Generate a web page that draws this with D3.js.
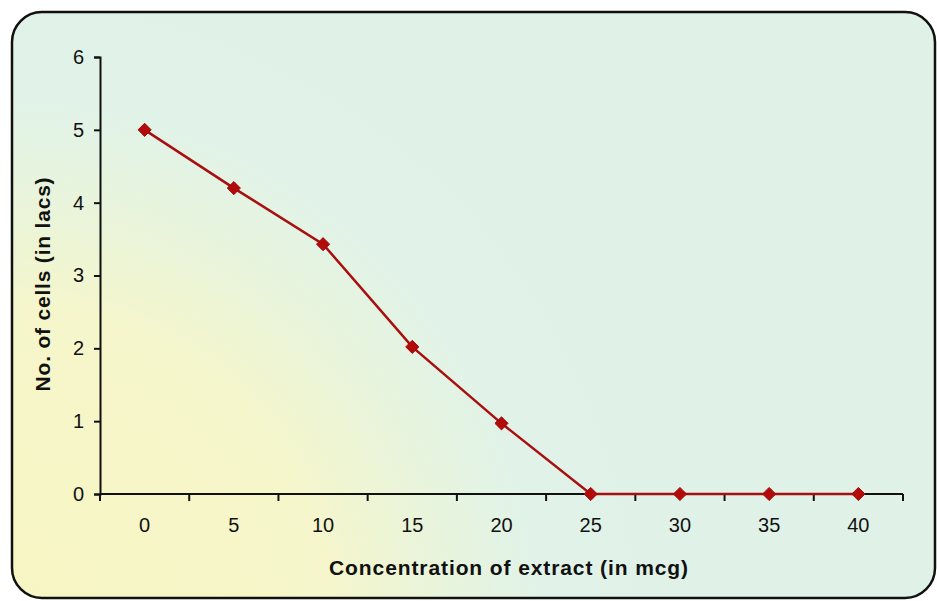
<!DOCTYPE html>
<html>
<head>
<meta charset="utf-8">
<script src="https://cdn.jsdelivr.net/npm/d3@7"></script>
<style>
  html, body { margin: 0; padding: 0; background: #ffffff; }
  svg { display: block; }
  text { font-family: "Liberation Sans", Arial, sans-serif; }
</style>
</head>
<body>
<div id="chart"></div>
<script>
// Cell count versus extract concentration
const concentrations = ["0", "5", "10", "15", "20", "25", "30", "35", "40"];
const cellCounts = [5.0, 4.2, 3.43, 2.02, 0.97, 0, 0, 0, 0];
const yTicks = [0, 1, 2, 3, 4, 5, 6];
const xTitle = "Concentration of extract (in mcg)";
const yTitle = "No. of cells (in lacs)";

const W = 937, H = 601;
const margin = { left: 100, right: 34, top: 57, bottom: 107 };

const svg = d3.select("#chart").append("svg")
  .attr("width", W).attr("height", H);

const defs = svg.append("defs");
const grad = defs.append("radialGradient")
  .attr("id", "bg")
  .attr("gradientUnits", "userSpaceOnUse")
  .attr("cx", 0).attr("cy", 640).attr("r", 660);
grad.append("stop").attr("offset", "0%").attr("stop-color", "#f8f5c2");
grad.append("stop").attr("offset", "50%").attr("stop-color", "#f5f6cb");
grad.append("stop").attr("offset", "68%").attr("stop-color", "#e8f4dc");
grad.append("stop").attr("offset", "82%").attr("stop-color", "#e1f3e8");
grad.append("stop").attr("offset", "100%").attr("stop-color", "#e0f2e8");

// Rounded panel behind the plot
svg.append("rect")
  .attr("x", 12).attr("y", 12)
  .attr("width", 923).attr("height", 586)
  .attr("rx", 30).attr("ry", 30)
  .attr("fill", "url(#bg)")
  .attr("stroke", "#111").attr("stroke-width", 2.5);

const x = d3.scaleBand()
  .domain(concentrations)
  .range([margin.left, W - margin.right])
  .padding(0);

const y = d3.scaleLinear()
  .domain([0, 6])
  .range([H - margin.bottom, margin.top]);

// Y axis
const yAxis = svg.append("g")
  .attr("transform", `translate(${margin.left},0)`)
  .call(d3.axisLeft(y).tickValues(yTicks).tickSize(6).tickPadding(10).tickFormat(d3.format("d")));
yAxis.select(".domain").attr("stroke", "#111").attr("stroke-width", 2);
yAxis.selectAll(".tick line").attr("stroke", "#111").attr("stroke-width", 2);
yAxis.selectAll(".tick text")
  .attr("font-size", 20)
  .attr("font-family", "'Liberation Sans', Arial, sans-serif")
  .attr("fill", "#111");

// X axis: ticks on category boundaries, labels centered in each band
const xAxisY = y(0);
const xg = svg.append("g").attr("transform", `translate(0,${xAxisY})`);
xg.append("line")
  .attr("x1", margin.left).attr("x2", W - margin.right)
  .attr("stroke", "#111").attr("stroke-width", 2);
const bounds = concentrations.map(c => x(c)).concat([x(concentrations[concentrations.length - 1]) + x.bandwidth()]);
xg.selectAll("line.tk").data(bounds).join("line")
  .attr("class", "tk")
  .attr("x1", d => d).attr("x2", d => d)
  .attr("y1", 0).attr("y2", 7)
  .attr("stroke", "#111").attr("stroke-width", 2);
xg.selectAll("text").data(concentrations).join("text")
  .attr("x", d => x(d) + x.bandwidth() / 2)
  .attr("y", 38)
  .attr("text-anchor", "middle")
  .attr("font-size", 20)
  .attr("fill", "#111")
  .text(d => d);

// Axis titles
svg.append("text")
  .attr("x", 509)
  .attr("y", 575)
  .attr("text-anchor", "middle")
  .attr("font-size", 21).attr("font-weight", "bold").attr("fill", "#111")
  .attr("letter-spacing", 0.9)
  .text(xTitle);

svg.append("text")
  .attr("transform", `translate(50,284) rotate(-90)`)
  .attr("text-anchor", "middle")
  .attr("font-size", 21).attr("font-weight", "bold").attr("fill", "#111")
  .attr("letter-spacing", 0.8)
  .text(yTitle);

// Series line and diamond markers
const pts = concentrations.map((c, i) => ({ c, v: cellCounts[i] }));
const line = d3.line()
  .x(d => x(d.c) + x.bandwidth() / 2)
  .y(d => y(d.v));

svg.append("path")
  .datum(pts)
  .attr("d", line)
  .attr("fill", "none")
  .attr("stroke", "#a80f0f")
  .attr("stroke-width", 2.5);

svg.selectAll("path.mk").data(pts).join("path")
  .attr("class", "mk")
  .attr("d", d3.symbol().type(d3.symbolDiamond2).size(110))
  .attr("transform", d => `translate(${x(d.c) + x.bandwidth() / 2},${y(d.v)})`)
  .attr("fill", "#b30a0a")
  .attr("stroke", "#9e0b0b")
  .attr("stroke-width", 1);
</script>
</body>
</html>
